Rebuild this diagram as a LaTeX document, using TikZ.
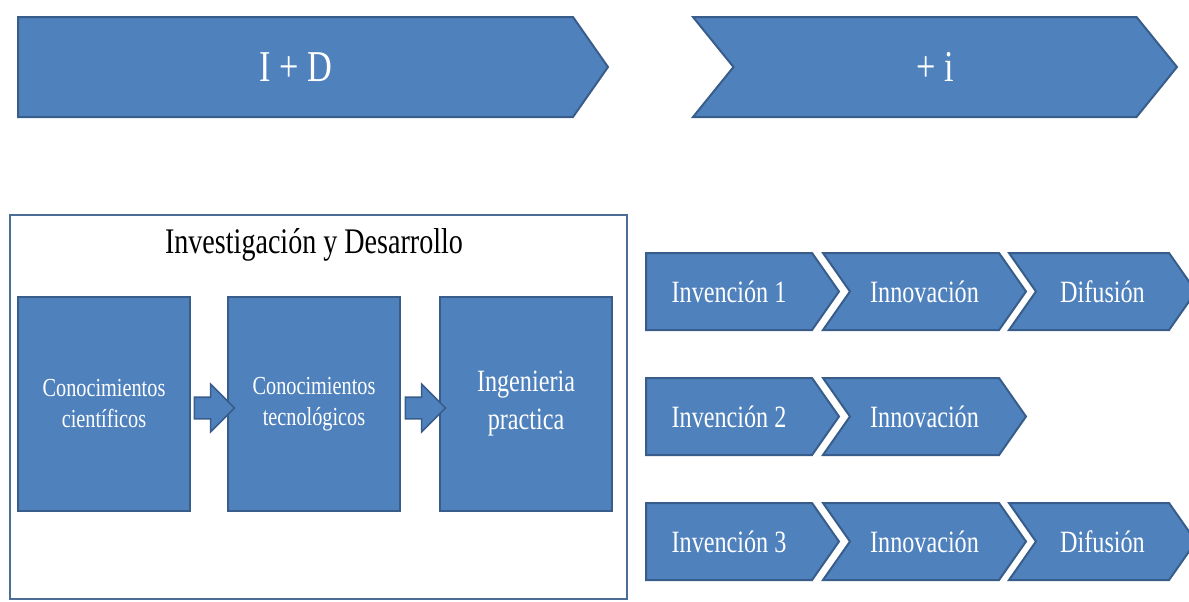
\documentclass[tikz,border=0pt]{standalone}
\usepackage{fontspec}
\setmainfont[FakeStretch=0.78]{Liberation Serif}
\usetikzlibrary{positioning, shapes.symbols, shapes.arrows, calc}
\definecolor{boxblue}{HTML}{4F81BD}
\definecolor{edgeblue}{HTML}{385D8A}

\begin{document}
\begin{tikzpicture}[
                x=0.5pt, y=-0.5pt,
                stage/.style={signal, signal to=east, signal from=west, signal pointer angle=110, fill=boxblue, draw=edgeblue, line width=1pt, text=white, inner sep=0pt, minimum height=38.5pt, font=\fontsize{15.5}{18}\selectfont},
                firststage/.style={stage, signal from=nowhere, anchor=west},
                block/.style={rectangle, fill=boxblue, draw=edgeblue, line width=1pt, text=white, minimum width=86pt, minimum height=107pt, align=center},
                frame/.style={rectangle, draw=edgeblue!90, line width=1pt, inner sep=0pt},
                flowarrow/.style={single arrow, single arrow head extend=6.5pt, fill=boxblue, draw=edgeblue, line width=0.8pt, inner sep=5pt, minimum height=20pt},
            ]
                \useasboundingbox (0,0) rectangle (1189,601);

                % Draw the two big stages on top
                \node[firststage, minimum width=295pt, minimum height=50pt, font=\fontsize{22}{26}\selectfont] (ID) at (17,67) {I + D};
                \node[stage, signal pointer angle=102, minimum width=242pt, minimum height=50pt, font=\fontsize{22}{26}\selectfont] (plusI) at (935,67) {+ i};

                % Draw the research and development frame
                \node[frame, minimum width=308.5pt, minimum height=192pt] (RD) at (318.5,407) {};
                \node[font=\fontsize{18}{21}\selectfont] (RD-title) at (314,245) {Investigación y Desarrollo};

                % Draw the three boxes inside the frame
                \node[block, font=\fontsize{13}{15.5}\selectfont] (C-1) at (104,404) {Conocimientos\\científicos};
                \node[block, font=\fontsize{13}{15.5}\selectfont] (C-2) at (314,404) {Conocimientos\\tecnológicos};
                \node[block, font=\fontsize{15.5}{19}\selectfont] (C-3) at (526,404) {Ingenieria\\practica};

                % Connect each box with the next one
                \foreach \source / \dest in {1/2, 2/3}
                    \node[flowarrow] (A-\source) at ($(C-\source.east)!0.5!(C-\dest.west)+(0,4)$) {};

                % Draw the chains on the right
                \foreach \row / \y in {1/291.5, 2/416.5, 3/541.5} {
                    \node[firststage, minimum width=96.5pt] (Inv-\row) at (645,\y) {Invención \row};
                    \node[stage, minimum width=101.5pt] (Inn-\row) at (924.5,\y) {Innovación};
                }
                \foreach \row / \y in {1/291.5, 3/541.5}
                    \node[stage, minimum width=93.5pt] (Dif-\row) at (1102.5,\y) {Difusión};
            \end{tikzpicture}
\end{document}
